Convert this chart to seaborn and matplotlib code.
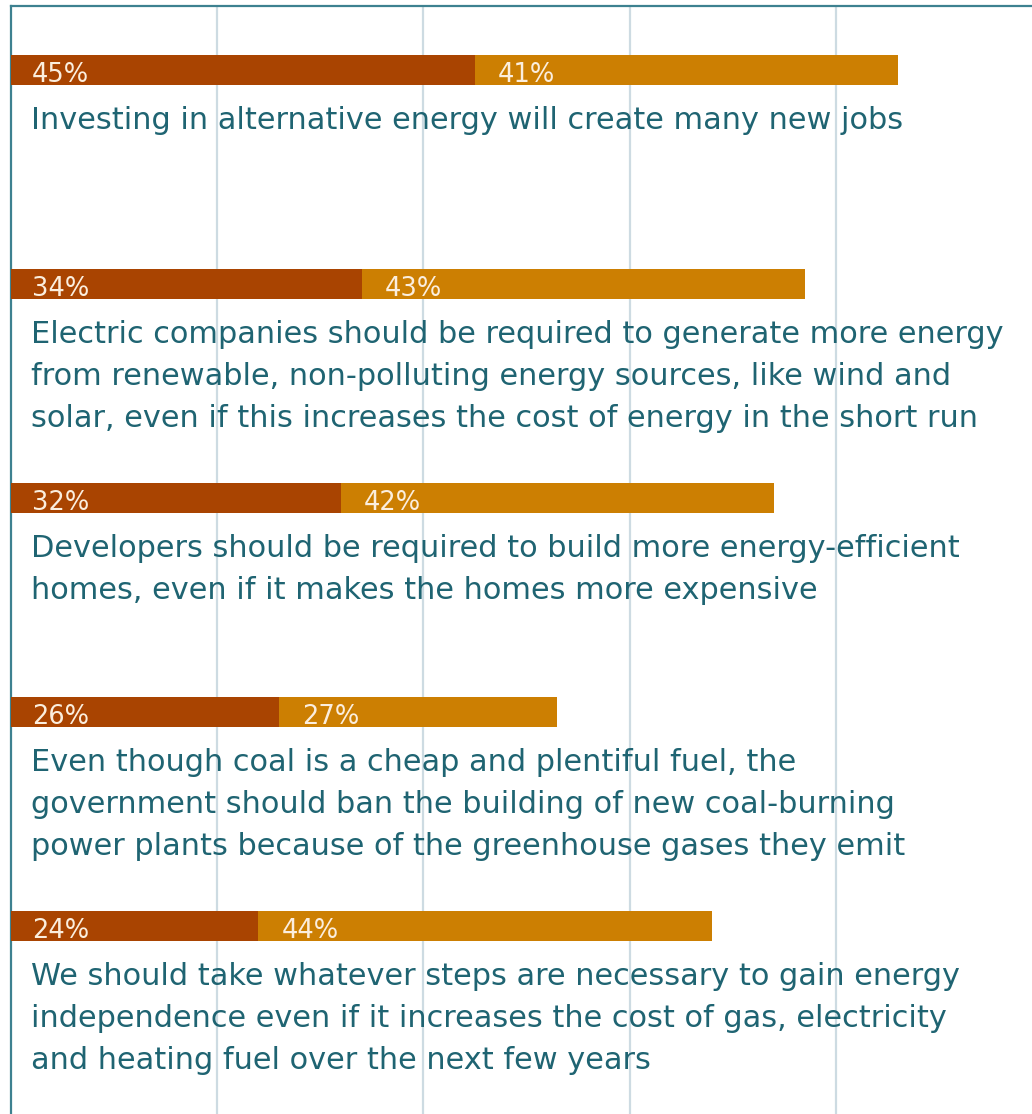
import numpy as np
import pandas as pd
import matplotlib
matplotlib.use('Agg')
import matplotlib.pyplot as plt
import seaborn as sns

# survey statements and the two response shares (strongly / somewhat agree)
statements = [
    "Investing in alternative energy will create many new jobs",
    "Electric companies should be required to generate more energy\nfrom renewable, non-polluting energy sources, like wind and\nsolar, even if this increases the cost of energy in the short run",
    "Developers should be required to build more energy-efficient\nhomes, even if it makes the homes more expensive",
    "Even though coal is a cheap and plentiful fuel, the\ngovernment should ban the building of new coal-burning\npower plants because of the greenhouse gases they emit",
    "We should take whatever steps are necessary to gain energy\nindependence even if it increases the cost of gas, electricity\nand heating fuel over the next few years",
]
strong = [45, 34, 32, 26, 24]
somewhat = [41, 43, 42, 27, 44]

DARK   = '#a94401'
LIGHT  = '#cc7f02'
TEAL   = '#1f6472'
FRAME  = '#3d8190'
GRIDC  = '#cddbe2'
LABELC = '#fbeede'

df = pd.DataFrame({'statement': statements, 'strong': strong, 'somewhat': somewhat})
df['total'] = df['strong'] + df['somewhat']
df['row'] = np.arange(len(df))

sns.set_theme(style='white')
plt.rcParams['font.family'] = ['DejaVu Sans']

W, H = 1032, 1114
fig = plt.figure(figsize=(W / 100, H / 100), dpi=100)
ax = fig.add_axes([11 / W, 0, 1 - 11 / W, 1 - 6 / H])

sns.barplot(data=df, x='total', y='row', orient='h', color=LIGHT,
            width=0.14, saturation=1, ax=ax, zorder=2, linewidth=0, edgecolor='none')
sns.barplot(data=df, x='strong', y='row', orient='h', color=DARK,
            width=0.14, saturation=1, ax=ax, zorder=3, linewidth=0, edgecolor='none')

ax.set_xlim(0, (W - 12) / 10.3)
ax.set_ylim(4.879, -0.299)
ax.set_xticks([20, 40, 60, 80])
ax.set_yticks([])
ax.tick_params(axis='x', length=0, labelbottom=False)
ax.grid(axis='x', color=GRIDC, lw=1.6, zorder=0)
ax.set_axisbelow(True)
ax.set_xlabel(''); ax.set_ylabel('')

for side in ['right', 'bottom']:
    ax.spines[side].set_visible(False)
for side in ['left', 'top']:
    ax.spines[side].set_color(FRAME)
    ax.spines[side].set_linewidth(1.6)

for i, r in df.iterrows():
    ax.annotate(f"{r['strong']}%", xy=(0, i), xytext=(21, -12),
                textcoords='offset pixels', va='baseline', ha='left',
                color=LABELC, fontsize=18.5, zorder=4)
    ax.annotate(f"{r['somewhat']}%", xy=(r['strong'], i), xytext=(23, -12),
                textcoords='offset pixels', va='baseline', ha='left',
                color=LABELC, fontsize=18.5, zorder=4)
    for k, line in enumerate(r['statement'].split('\n')):
        ax.annotate(line, xy=(0, i), xytext=(20, -59 - 42 * k),
                    textcoords='offset pixels', va='baseline', ha='left',
                    color=TEAL, fontsize=21.9, zorder=4)

fig.savefig('out.png', dpi=100)
